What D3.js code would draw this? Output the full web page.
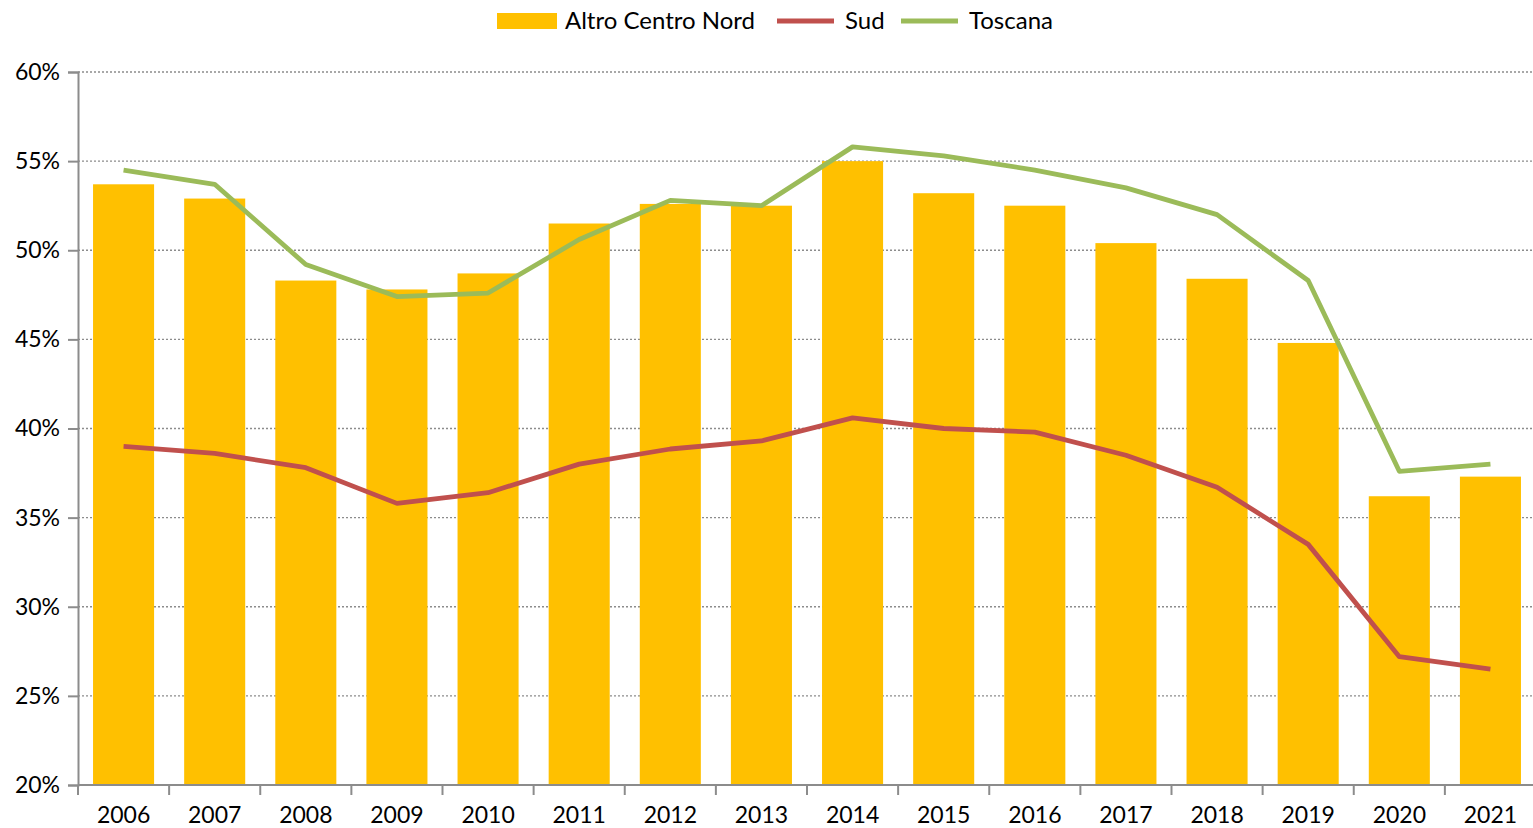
<!DOCTYPE html>
<html>
<head>
<meta charset="utf-8">
<script src="https://cdn.jsdelivr.net/npm/d3@7"></script>
<style>
  html, body { margin: 0; padding: 0; background: #fff; }
  svg { display: block; font-family: Lato, "Open Sans", sans-serif; }
</style>
</head>
<body>
<svg width="1533" height="828"></svg>
<script>
(function (d3) {
  'use strict';

  const years = ['2006','2007','2008','2009','2010','2011','2012','2013',
                 '2014','2015','2016','2017','2018','2019','2020','2021'];
  const altroCentroNord = [53.7, 52.9, 48.3, 47.8, 48.7, 51.5, 52.6, 52.5,
                           55.0, 53.2, 52.5, 50.4, 48.4, 44.8, 36.2, 37.3];
  const sud = [39.0, 38.6, 37.8, 35.8, 36.4, 38.0, 38.85, 39.3,
               40.6, 40.0, 39.8, 38.5, 36.7, 33.5, 27.2, 26.5];
  const toscana = [54.5, 53.7, 49.2, 47.4, 47.6, 50.6, 52.8, 52.5,
                   55.8, 55.3, 54.5, 53.5, 52.0, 48.3, 37.6, 38.0];
  const yTicks = [20, 25, 30, 35, 40, 45, 50, 55, 60];

  const svg = d3.select('svg');
  const margin = { top: 72, right: 0, bottom: 43, left: 78 };
  const width = 1533, height = 828;
  const innerWidth = width - margin.left - margin.right;
  const innerHeight = height - margin.top - margin.bottom;
  const bandRange = 1458;

  const g = svg.append('g')
      .attr('transform', `translate(${margin.left},${margin.top})`);

  const x = d3.scaleBand().domain(years).range([0, bandRange])
      .paddingInner(0.33).paddingOuter(0.165);
  const xb = d3.scaleBand().domain(years).range([0, bandRange]);
  const y = d3.scaleLinear().domain([20, 60]).range([innerHeight, 0]);

  // gridlines
  g.selectAll('line.grid').data(yTicks.slice(1))
    .enter().append('line')
      .attr('x1', 0).attr('x2', innerWidth)
      .attr('y1', d => y(d)).attr('y2', d => y(d))
      .attr('stroke', '#8c8c8c').attr('stroke-width', 1.3)
      .attr('stroke-dasharray', '2,2');

  // bars
  g.selectAll('rect.bar').data(altroCentroNord)
    .enter().append('rect')
      .attr('x', (d, i) => x(years[i]))
      .attr('width', x.bandwidth())
      .attr('y', d => y(d))
      .attr('height', d => innerHeight - y(d))
      .attr('fill', '#FFC000');

  // lines
  const line = d3.line()
      .x((d, i) => xb(years[i]) + xb.bandwidth() / 2)
      .y(d => y(d));

  g.append('path').datum(sud)
      .attr('d', line).attr('fill', 'none')
      .attr('stroke', '#C0504D').attr('stroke-width', 4.8)
      .attr('stroke-linejoin', 'round');
  g.append('path').datum(toscana)
      .attr('d', line).attr('fill', 'none')
      .attr('stroke', '#9BBB59').attr('stroke-width', 4.8)
      .attr('stroke-linejoin', 'round');

  // y axis
  const yAxis = g.append('g')
      .call(d3.axisLeft(y).tickValues(yTicks).tickFormat(d => d + '%').tickSize(10).tickPadding(8));
  yAxis.select('.domain').attr('stroke', '#8c8c8c').attr('stroke-width', 2);
  yAxis.selectAll('.tick line').attr('stroke', '#8c8c8c').attr('stroke-width', 2);
  yAxis.selectAll('.tick text').attr('font-size', 23).attr('fill', '#000')
      .attr('font-family', 'Lato, sans-serif');

  // x axis
  const xAxis = g.append('g').attr('transform', `translate(0,${innerHeight})`);
  xAxis.append('line').attr('x1', 0).attr('x2', innerWidth)
      .attr('stroke', '#8c8c8c').attr('stroke-width', 2);
  xAxis.selectAll('line.tk').data(years)
    .enter().append('line')
      .attr('x1', d => xb(d)).attr('x2', d => xb(d))
      .attr('y1', 0).attr('y2', 10)
      .attr('stroke', '#8c8c8c').attr('stroke-width', 2);
  xAxis.selectAll('text').data(years)
    .enter().append('text')
      .attr('x', d => xb(d) + xb.bandwidth() / 2)
      .attr('y', 38)
      .attr('text-anchor', 'middle')
      .attr('font-size', 23)
      .text(d => d);

  // legend
  const legend = svg.append('g');
  const items = [
    { name: 'Altro Centro Nord', color: '#FFC000', type: 'rect', x: 497 },
    { name: 'Sud', color: '#C0504D', type: 'line', x: 777 },
    { name: 'Toscana', color: '#9BBB59', type: 'line', x: 901 }
  ];
  items.forEach(it => {
    if (it.type === 'rect') {
      legend.append('rect').attr('x', it.x).attr('y', 13)
        .attr('width', 60).attr('height', 16).attr('fill', it.color);
    } else {
      legend.append('line').attr('x1', it.x).attr('x2', it.x + 57)
        .attr('y1', 21).attr('y2', 21)
        .attr('stroke', it.color).attr('stroke-width', 5);
    }
    legend.append('text').attr('x', it.x + 68).attr('y', 29)
      .attr('font-size', 24).text(it.name);
  });

}(d3));
</script>
</body>
</html>
